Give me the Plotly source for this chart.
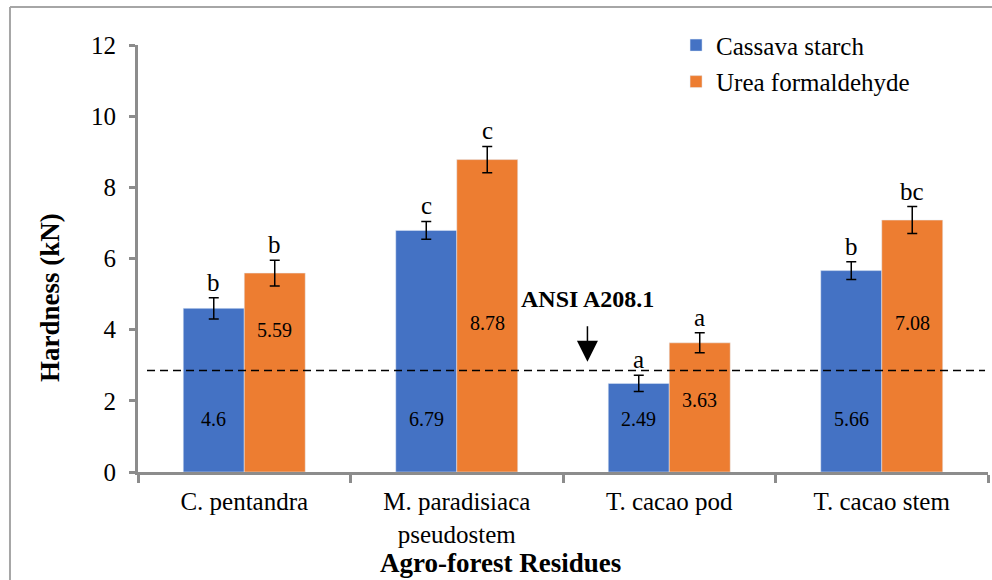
import plotly.graph_objects as go

categories = ["C. pentandra", "M. paradisiaca<br>pseudostem", "T. cacao pod", "T. cacao stem"]
cassava = [4.6, 6.79, 2.49, 5.66]
cassava_err = [0.30, 0.25, 0.23, 0.25]
cassava_letters = ["b", "c", "a", "b"]
urea = [5.59, 8.78, 3.63, 7.08]
urea_err = [0.36, 0.37, 0.28, 0.38]
urea_letters = ["b", "c", "a", "bc"]
ansi_limit = 2.85
y_ticks = [0, 2, 4, 6, 8, 10, 12]

BLUE = "#4472C4"
ORANGE = "#ED7D31"
FONT = "'Liberation Serif', 'Times New Roman', Times, serif"
AXIS_GRAY = "#8C8C8C"

fig = go.Figure()
fig.add_trace(go.Bar(
    x=categories, y=cassava, name="Cassava starch", marker_color=BLUE,
    legendgroup="a",
    error_y=dict(type="data", array=cassava_err, color="black", thickness=1.5, width=5),
))
fig.add_trace(go.Bar(
    x=categories, y=urea, name="Urea formaldehyde", marker_color=ORANGE,
    legendgroup="b",
    error_y=dict(type="data", array=urea_err, color="black", thickness=1.5, width=5),
))

half = 30.5
annotations = []
for i, cat in enumerate(categories):
    for vals, errs, letters, shift, lab_y in (
        (cassava, cassava_err, cassava_letters, -half, 1.5),
        (urea, urea_err, urea_letters, half, min(4.2, urea[i] - 1.6)),
    ):
        annotations.append(dict(
            x=cat, y=vals[i] + errs[i], xshift=shift, yshift=0, text=letters[i],
            showarrow=False, yanchor="bottom", font=dict(family=FONT, size=25, color="black"),
        ))
        annotations.append(dict(
            x=cat, y=lab_y, xshift=shift, text=f"{vals[i]:g}",
            showarrow=False, font=dict(family=FONT, size=20, color="black"),
        ))

# ANSI annotation text and arrow
annotations.append(dict(
    x=1.615, y=4.85, text="<b>ANSI A208.1</b>", showarrow=False,
    font=dict(family=FONT, size=24, color="black"),
))
annotations.append(dict(
    x=1.615, y=3.1, text="", showarrow=True, ax=0, ay=-37,
    arrowhead=2, arrowsize=2.8, arrowwidth=1.5, arrowcolor="black",
))
# axis titles
annotations.append(dict(
    xref="paper", yref="paper", x=-0.1035, y=0.4075, text="<b>Hardness (kN)</b>",
    textangle=-90, showarrow=False, xanchor="center", yanchor="middle",
    font=dict(family=FONT, size=27, color="black"),
))
annotations.append(dict(
    xref="paper", yref="paper", x=0.426, y=-0.213, text="<b>Agro-forest Residues</b>",
    showarrow=False, xanchor="center", yanchor="middle",
    font=dict(family=FONT, size=27, color="black"),
))

shapes = [
    dict(type="line", xref="paper", yref="y", x0=0.0106, x1=0.9965, y0=ansi_limit, y1=ansi_limit,
         line=dict(color="black", width=1.5, dash="8px,5px")),
    dict(type="line", xref="paper", yref="paper", x0=-0.1506, x1=1.01, y0=1.089, y1=1.089,
         line=dict(color="#A6A6A6", width=2)),
    dict(type="line", xref="paper", yref="paper", x0=-0.1506, x1=-0.1506, y0=1.089, y1=-0.26,
         line=dict(color="#A6A6A6", width=2)),
]

fig.update_layout(
    width=992, height=580,
    margin=dict(l=138, r=4, t=45, b=108),
    paper_bgcolor="white", plot_bgcolor="white",
    barmode="group", bargap=0.426, bargroupgap=0,
    font=dict(family=FONT, size=20, color="black"),
    showlegend=True,
    legend=dict(
        x=0.633, y=1.053, xanchor="left", yanchor="top",
        traceorder="grouped", tracegroupgap=1,
        font=dict(family=FONT, size=25, color="black"),
        bgcolor="rgba(0,0,0,0)",
    ),
    annotations=annotations,
    shapes=shapes,
    xaxis=dict(
        type="category", showline=True, linecolor=AXIS_GRAY, linewidth=3,
        ticks="outside", tickson="boundaries", ticklen=8, tickwidth=3, tickcolor=AXIS_GRAY,
        tickfont=dict(family=FONT, size=25, color="black"), ticklabelstandoff=5,
        showgrid=False, zeroline=False,
    ),
    yaxis=dict(
        range=[0, 12], tickvals=y_ticks, showline=True, linecolor=AXIS_GRAY, linewidth=3,
        ticks="outside", ticklen=6, tickwidth=3, tickcolor=AXIS_GRAY,
        tickfont=dict(family=FONT, size=25, color="black"), ticklabelstandoff=8,
        showgrid=False, zeroline=False,
    ),
)

fig.write_html(
    "out.html",
    config={"displayModeBar": False},
    post_script="document.body.style.margin='0';document.body.style.padding='0';",
)
